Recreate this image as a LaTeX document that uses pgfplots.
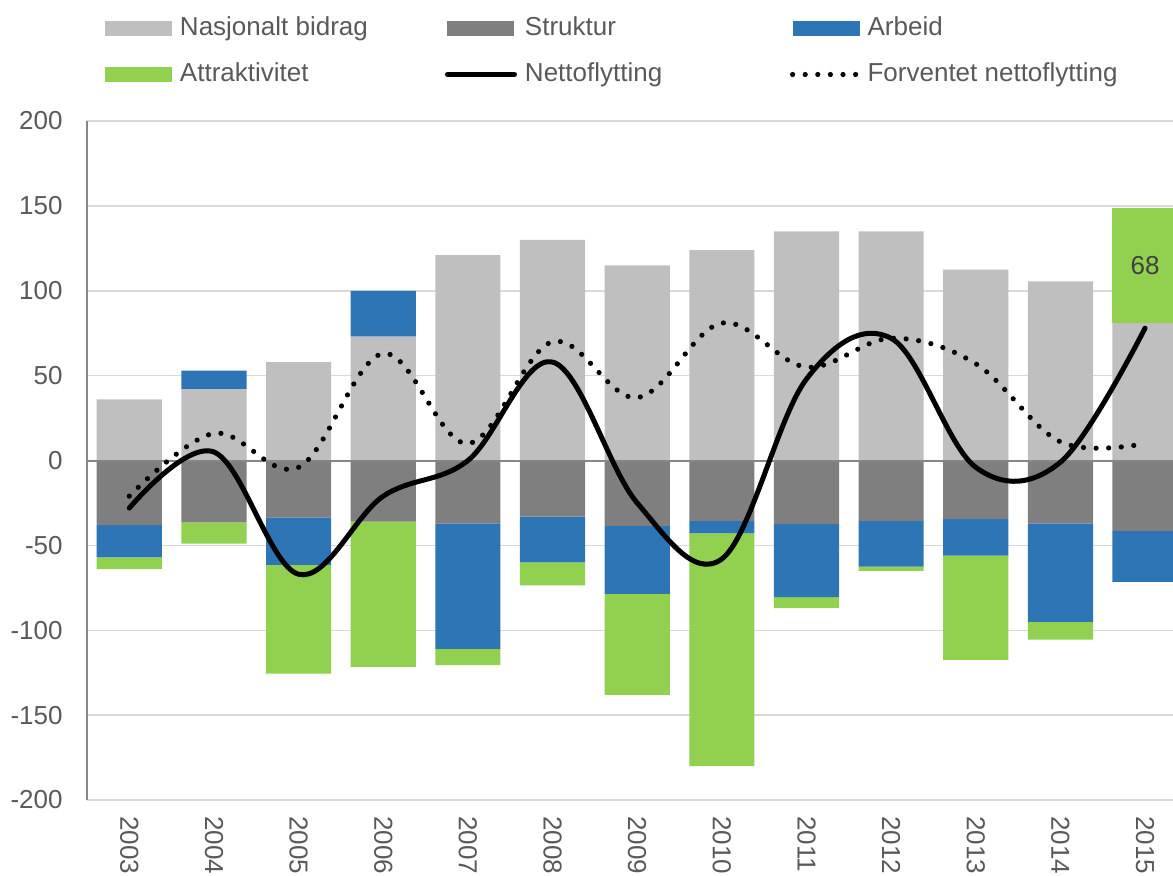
\documentclass[border=0pt]{standalone}
\usepackage{fontspec}
\setmainfont{Liberation Sans}
\usepackage{pgfplots}
\pgfplotsset{compat=1.18}
\definecolor{cNasj}{HTML}{BFBFBF}
\definecolor{cStr}{HTML}{7F7F7F}
\definecolor{cArb}{HTML}{2E75B6}
\definecolor{cAttr}{HTML}{92D050}
\definecolor{cGrid}{HTML}{D9D9D9}
\definecolor{cAxis}{HTML}{868686}
\definecolor{cText}{HTML}{595959}
\definecolor{cLab}{HTML}{404040}
\newcommand{\chartfont}{\fontsize{13}{15.6}\selectfont}
\pgfplotsset{
  geom/.style={
    scale only axis, width=543pt, height=339.5pt,
    at={(0pt,0pt)}, anchor=south west,
    xmin=-0.5, xmax=12.33, ymin=-200, ymax=200,
    /pgf/number format/assume math mode=true,
  },
  barleg/.style={legend image code/.code={\fill[##1] (0pt,-3.6pt) rectangle (33.5pt,3.6pt);}},
  linleg/.style={legend image code/.code={\draw[##1] (0pt,0pt) -- (33.5pt,0pt);}},
  dotleg/.style={legend image code/.code={\draw[##1] (0pt,0pt) -- (32pt,0pt);}},
}
\begin{document}
\begin{tikzpicture}
% ---------- positive stack (with grid, ticks, labels) ----------
\begin{axis}[geom,
  ybar stacked, bar width=0.77,
  xtick={0,1,2,3,4,5,6,7,8,9,10,11,12},
  xticklabels={2003,2004,2005,2006,2007,2008,2009,2010,2011,2012,2013,2014,2015},
  ytick={-200,-150,-100,-50,0,50,100,150,200},
  ymajorgrids, grid style={cGrid, line width=0.75pt},
  major tick length=0pt,
  axis y line*=left, axis x line*=bottom,
  x axis line style={draw=none},
  y axis line style={cAxis, line width=1pt, -},
  tick label style={font=\chartfont, text=cText},
  xticklabel style={rotate=-90, anchor=west, inner sep=0pt},
  xticklabel shift=8pt,
  yticklabel style={anchor=east, inner sep=0pt},
  yticklabel shift=12pt,
]
% Nasjonalt bidrag
\addplot[fill=cNasj, draw=none] coordinates {
  (0,36) (1,42) (2,58) (3,73) (4,121) (5,130) (6,115) (7,124) (8,135) (9,135) (10,112.5) (11,105.5) (12,81)};
% Arbeid (positive part)
\addplot[fill=cArb, draw=none] coordinates {
  (0,0) (1,11) (2,0) (3,27) (4,0) (5,0) (6,0) (7,0) (8,0) (9,0) (10,0) (11,0) (12,0)};
% Attraktivitet (positive part)
\addplot[fill=cAttr, draw=none,
  visualization depends on=rawy\as\rawy,
  nodes near coords={\ifdim\rawy pt>1pt\relax\pgfmathprintnumber[fixed,precision=0]{\rawy}\fi},
  every node near coord/.append style={anchor=center, yshift=0pt, font=\chartfont, text=cLab}
  ] coordinates {
  (0,0) (1,0) (2,0) (3,0) (4,0) (5,0) (6,0) (7,0) (8,0) (9,0) (10,0) (11,0) (12,68)};
\end{axis}
% ---------- negative stack ----------
\begin{axis}[geom, hide axis, ybar stacked, bar width=0.77]
% Struktur
\addplot[fill=cStr, draw=none] coordinates {
  (0,-38) (1,-36.5) (2,-33.5) (3,-36) (4,-37) (5,-33) (6,-38.5) (7,-35.5) (8,-37.5) (9,-35.5) (10,-34.5) (11,-37) (12,-41.5)};
% Arbeid (negative part)
\addplot[fill=cArb, draw=none] coordinates {
  (0,-19) (1,0) (2,-28) (3,0) (4,-74) (5,-27) (6,-40) (7,-7.5) (8,-43) (9,-27) (10,-21.5) (11,-58) (12,-30)};
% Attraktivitet (negative part)
\addplot[fill=cAttr, draw=none] coordinates {
  (0,-7) (1,-12.5) (2,-64) (3,-85.5) (4,-9.5) (5,-13.5) (6,-59.5) (7,-137) (8,-6.5) (9,-2.5) (10,-61.5) (11,-10.5) (12,0)};
\end{axis}
% ---------- lines and legend ----------
\begin{axis}[geom, hide axis,
  legend columns=3,
  legend style={at={(0,1)}, anchor=north west, xshift=9pt, yshift=52.75pt,
    draw=none, fill=none, inner sep=0pt, outer sep=0pt,
    row sep=10pt, column sep=0pt,
    font=\chartfont, text=cText,
    nodes={inner sep=0pt, text height=10pt, text depth=3pt},
    /tikz/every odd column/.append style={column sep=4pt},
  },
]
\addlegendimage{barleg, fill=cNasj, draw=none}
\addlegendentry{\makebox[132.5pt][l]{Nasjonalt bidrag}}
\addlegendimage{barleg, fill=cStr, draw=none}
\addlegendentry{\makebox[132.5pt][l]{Struktur}}
\addlegendimage{barleg, fill=cArb, draw=none}
\addlegendentry{\makebox[132.5pt][l]{Arbeid}}
\addlegendimage{barleg, fill=cAttr, draw=none}
\addlegendentry{\makebox[132.5pt][l]{Attraktivitet}}
\draw[cAxis, line width=1pt] (axis cs:-0.5,0) -- (axis cs:12.33,0);
% Nettoflytting
\addplot[black, line width=2.5pt, line cap=round, line join=round, smooth, tension=0.6, mark=none, linleg] coordinates {
  (0,-28) (1,5) (2,-67) (3,-21) (4,0) (5,58) (6,-25) (7,-58) (8,48) (9,72) (10,-4) (11,-1) (12,78)};
\addlegendentry{\makebox[132.5pt][l]{Nettoflytting}}
% Forventet nettoflytting
\addplot[black, line width=2.6pt, line cap=round, dash pattern=on 0pt off 6.3pt, smooth, tension=0.6, mark=none, dotleg] coordinates {
  (0,-21) (1,16) (2,-4) (3,63) (4,10) (5,70) (6,37) (7,81) (8,55) (9,72) (10,57) (11,11) (12,10)};
\addlegendentry{\makebox[132.5pt][l]{Forventet nettoflytting}}
\end{axis}
\pgfresetboundingbox
\useasboundingbox (-43.5pt,-37.5pt) rectangle (543pt,400pt);
\end{tikzpicture}
\end{document}
